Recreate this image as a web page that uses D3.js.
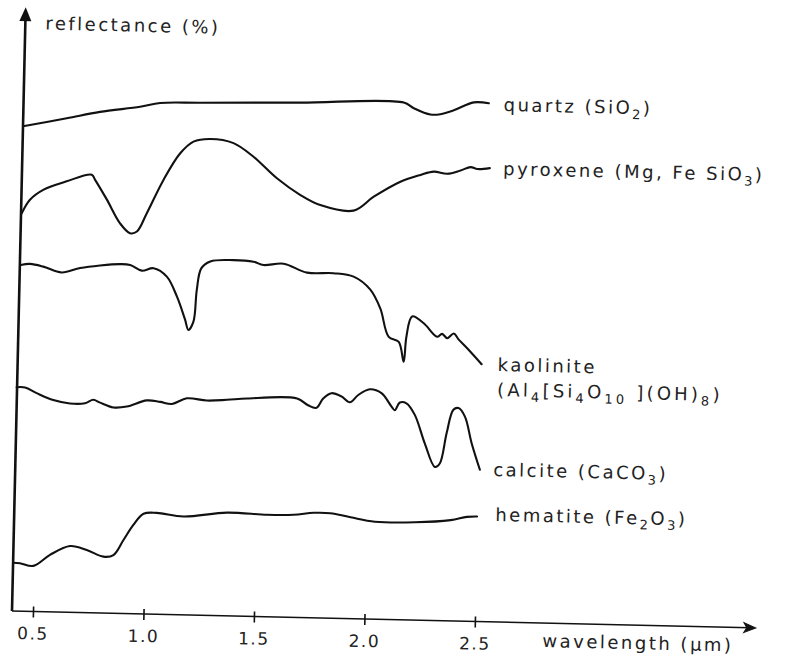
<!DOCTYPE html>
<html><head><meta charset="utf-8">
<script src="https://cdn.jsdelivr.net/npm/d3@7"></script>
<style>html,body{margin:0;padding:0;background:#fff;} svg{display:block;}</style>
</head><body>
<svg id="chart" width="785" height="655"></svg>
<script>
// ---- data: [wavelength (µm), relative reflectance (offset, arbitrary units)] ----
const wavelengthTicks = [0.5, 1.0, 1.5, 2.0, 2.5];
const quartz = [[0.405,80.8],[0.602,82.3],[0.752,83.5],[0.933,84.5],[1.023,85.2],[1.204,85.4],[1.657,85.8],[2.125,86.2],[2.171,85.3],[2.247,84.3],[2.292,84.4],[2.352,85.1],[2.442,86.5],[2.510,86.4]];
const pyroxene = [[0.408,66.3],[0.444,68.6],[0.503,70.3],[0.608,71.8],[0.721,73.0],[0.736,72.2],[0.792,68.9],[0.854,65.0],[0.900,63.4],[0.931,63.7],[0.974,66.8],[1.046,72.4],[1.119,76.9],[1.178,78.9],[1.253,79.4],[1.359,78.8],[1.451,76.6],[1.559,73.1],[1.667,70.4],[1.758,68.8],[1.909,68.0],[1.999,70.4],[2.118,73.0],[2.208,74.2],[2.268,74.8],[2.329,74.5],[2.389,75.1],[2.434,75.7],[2.465,75.4],[2.521,75.6]];
const kaolinite = [[0.409,57.7],[0.451,57.9],[0.511,57.5],[0.595,56.6],[0.678,57.4],[0.768,57.9],[0.858,58.2],[0.904,58.1],[0.957,57.2],[1.010,57.65],[1.071,56.3],[1.119,53.0],[1.158,49.2],[1.174,47.5],[1.196,48.9],[1.208,54.2],[1.226,57.8],[1.266,59.0],[1.371,59.3],[1.462,59.1],[1.507,58.6],[1.598,58.9],[1.705,57.5],[1.825,57.5],[1.916,57.0],[1.993,54.9],[2.040,51.8],[2.081,47.1],[2.127,46.3],[2.151,43.0],[2.161,47.2],[2.185,50.6],[2.238,49.5],[2.300,47.3],[2.322,47.8],[2.346,47.1],[2.375,47.9],[2.398,46.9],[2.437,45.5],[2.504,42.9]];
const calcite = [[0.403,37.3],[0.441,37.3],[0.494,36.4],[0.570,35.3],[0.646,34.8],[0.714,34.9],[0.751,35.5],[0.782,35.05],[0.843,34.3],[0.903,34.5],[0.993,35.6],[1.054,35.4],[1.107,35.1],[1.174,36.1],[1.265,35.8],[1.356,36.0],[1.446,36.3],[1.673,36.5],[1.723,35.4],[1.761,35.0],[1.791,36.6],[1.828,37.5],[1.873,37.0],[1.912,36.05],[1.949,37.3],[2.001,38.3],[2.054,37.7],[2.101,35.5],[2.116,34.9],[2.138,36.2],[2.168,36.1],[2.207,34.2],[2.255,29.5],[2.303,25.6],[2.325,26.2],[2.353,31.3],[2.381,35.2],[2.404,35.5],[2.434,34.1],[2.467,29.7],[2.507,25.3]];
const hematite = [[0.405,8.05],[0.436,8.0],[0.497,7.6],[0.571,9.5],[0.661,11.05],[0.737,10.45],[0.813,9.4],[0.858,9.7],[0.902,12.25],[0.945,14.8],[0.990,16.7],[1.050,16.9],[1.171,16.4],[1.367,17.2],[1.548,17.0],[1.669,17.1],[1.760,17.5],[1.835,17.5],[1.927,16.9],[2.037,16.25],[2.218,16.3],[2.380,16.8],[2.453,17.4],[2.499,17.5]];

// label texts (segments: [text, isSubscript])
const labelQuartz = [["quartz (SiO",0],["2",1],[")",0]];
const labelPyroxene = [["pyroxene (Mg, Fe SiO",0],["3",1],[")",0]];
const labelKaolinite = [["kaolinite",0]];
const labelKaoliniteFormula = [["(Al",0],["4",1],["[Si",0],["4",1],["O",0],["10",1],[" ](OH)",0],["8",1],[")",0]];
const labelCalcite = [["calcite (CaCO",0],["3",1],[")",0]];
const labelHematite = [["hematite (Fe",0],["2",1],["O",0],["3",1],[")",0]];
const yAxisTitle = "reflectance (%)";
const xAxisTitle = "wavelength (µm)";

// ---- drawing ----
const svg = d3.select("#chart");
const FONT = "DejaVu Sans";
const g = svg.append("g").attr("transform", "translate(12,611) rotate(1.3)");

const x = d3.scaleLinear().domain([0.5, 2.5]).range([21, 463]);
const y = d3.scaleLinear().domain([0, 100]).range([0, -600]);

// y axis with arrow
g.append("line").attr("x1", 0).attr("y1", 0).attr("x2", 0).attr("y2", -594)
  .attr("stroke", "#111").attr("stroke-width", 2.6);
g.append("path").attr("d", "M0,-604 L-6,-590 L6,-590 Z").attr("fill", "#111");

// x axis via d3 axis
const xAxis = d3.axisBottom(x).tickValues(wavelengthTicks).tickFormat(d3.format(".1f")).tickSizeOuter(0);
const ax = g.append("g").call(xAxis);
ax.select(".domain").remove();
ax.selectAll(".tick line").attr("y1", -5).attr("y2", 6).attr("stroke", "#111").attr("stroke-width", 1.6);
ax.selectAll(".tick text").attr("y", 28).attr("dy", null)
  .attr("font-family", FONT).attr("font-size", 17).attr("fill", "#222").attr("letter-spacing", 1.5);
g.append("line").attr("x1", 0).attr("y1", 0).attr("x2", 738).attr("y2", 0)
  .attr("stroke", "#111").attr("stroke-width", 1.6);
g.append("path").attr("d", "M732,-5 L744,0 L732,5 L735,0 Z").attr("fill", "#111").attr("stroke", "#111").attr("stroke-width", 1);

// curves
const line = d3.line().x(d => x(d[0])).y(d => y(d[1])).curve(d3.curveCatmullRom.alpha(0.5));
[quartz, pyroxene, kaolinite, calcite, hematite].forEach(series => {
  g.append("path").datum(series).attr("d", line)
    .attr("fill", "none").attr("stroke", "#111").attr("stroke-width", 2.1)
    .attr("stroke-linejoin", "round").attr("stroke-linecap", "round");
});

// labels
function addLabel(segs, px, py, spacing) {
  const t = g.append("text").attr("x", px).attr("y", py)
    .attr("font-family", FONT).attr("font-size", 18)
    .attr("letter-spacing", spacing || 2.5).attr("fill", "#222");
  let down = false;
  segs.forEach(([s, sub]) => {
    const ts = t.append("tspan").text(s);
    if (sub && !down) { ts.attr("dy", 5).attr("font-size", 13); down = true; }
    else if (sub) { ts.attr("font-size", 13); }
    else if (!sub && down) { ts.attr("dy", -5); down = false; }
  });
  return t;
}
addLabel(labelQuartz, 480, -511);
addLabel(labelPyroxene, 481, -447);
addLabel(labelKaolinite, 480, -251);
addLabel(labelKaoliniteFormula, 480, -226, 3.2);
addLabel(labelCalcite, 478, -146);
addLabel(labelHematite, 481, -101);
addLabel([[yAxisTitle,0]], 20, -582);
addLabel([[xAxisTitle,0]], 531, 24);
</script>
</body></html>
